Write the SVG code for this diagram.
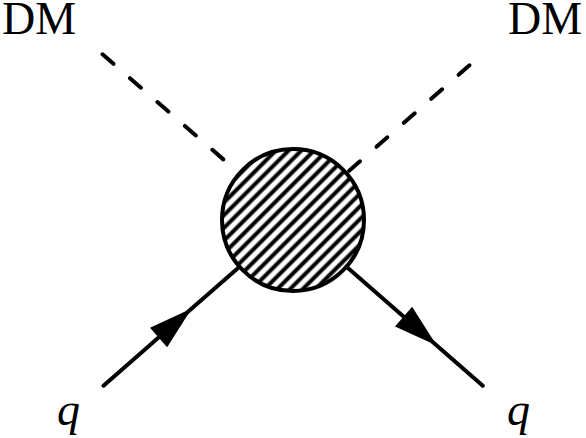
<svg xmlns="http://www.w3.org/2000/svg" width="586" height="438" viewBox="0 0 586 438">
  <style>
    text { font-family: "Liberation Serif", "Times New Roman", serif; fill: #000; }
    .lbl { font-size: 46px; }
    .q { font-style: italic; font-size: 46px; }
    .edge { fill: none; stroke: #000; stroke-width: 4; stroke-linecap: round; }
    .dm { stroke-dasharray: 14.5 21.9; }
    .ferm { marker-mid: url(#arr); }
  </style>
  <defs>
    <marker id="arr" markerUnits="userSpaceOnUse" viewBox="-46 -15 48 30" markerWidth="48" markerHeight="30" refX="0" refY="0" orient="auto">
      <path d="M0,0 L-44,-13 L-44,13 Z" fill="#000"/>
    </marker>
    <pattern id="hatch" patternUnits="userSpaceOnUse" width="20" height="9" patternTransform="rotate(-45)">
      <line x1="-2" y1="4.5" x2="22" y2="4.5" stroke="#000" stroke-width="4"/>
    </pattern>
  </defs>
  <rect width="586" height="438" fill="#fff"/>

  <g id="connectors">
    <path class="edge dm" d="M102.5,54.3 L293,220"/>
    <path class="edge dm" d="M469.5,65.3 L293,220"/>
    <path class="edge ferm" d="M103.5,385.7 L191.7,308.6 L293,220"/>
    <path class="edge ferm" d="M293,220 L436.7,345.6 L482.8,385.8"/>
  </g>

  <g id="vertex">
    <circle cx="293" cy="220" r="71" fill="#fff"/>
    <circle cx="293" cy="220" r="71" fill="url(#hatch)" stroke="#000" stroke-width="4"/>
  </g>

  <g id="dm-left"><text class="lbl" x="2" y="34">DM</text></g>
  <g id="dm-right"><text class="lbl" x="508" y="34">DM</text></g>
  <g id="q-in"><text class="q" x="68.5" y="425" text-anchor="middle">q</text></g>
  <g id="q-out"><text class="q" x="518.5" y="425" text-anchor="middle">q</text></g>
</svg>
